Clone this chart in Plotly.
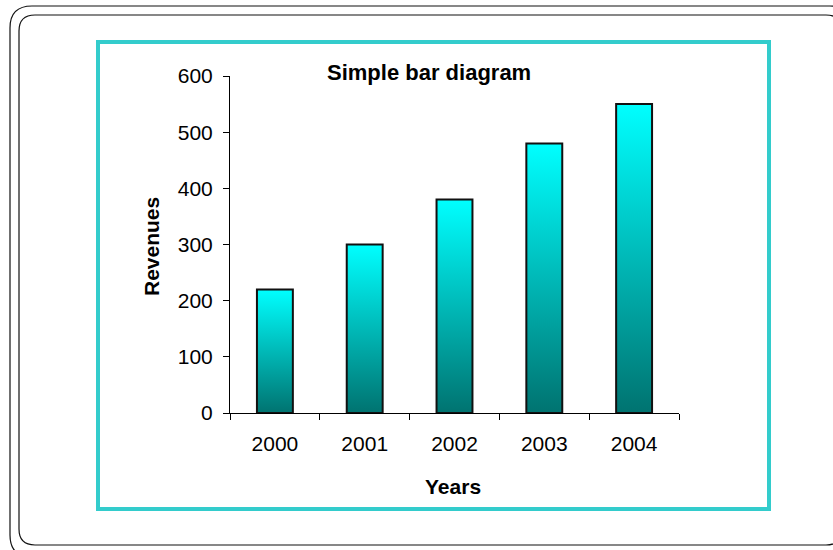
import plotly.graph_objects as go

# Revenue by year
years = ["2000", "2001", "2002", "2003", "2004"]
revenues = [220, 300, 380, 480, 550]
y_ticks = [0, 100, 200, 300, 400, 500, 600]

W, H = 833, 550
# plot area in pixels
L, R, T, B = 230, 679, 76, 413

FONT = "Arial, 'Liberation Sans', sans-serif"
BAR_W = 0.4


def px(x):
    return (x - L) / (R - L)


def py(y):
    return (B - y) / (B - T)


def rounded_path(x0, y0, x1, y1, r):
    pts = [
        ("M", [(x0 + r, y0)]),
        ("L", [(x1 - r, y0)]),
        ("Q", [(x1, y0), (x1, y0 + r)]),
        ("L", [(x1, y1 - r)]),
        ("Q", [(x1, y1), (x1 - r, y1)]),
        ("L", [(x0 + r, y1)]),
        ("Q", [(x0, y1), (x0, y1 - r)]),
        ("L", [(x0, y0 + r)]),
        ("Q", [(x0, y0), (x0 + r, y0)]),
    ]
    parts = []
    for cmd, coords in pts:
        parts.append(cmd + " ".join(f"{px(a):.5f},{py(b):.5f}" for a, b in coords))
    return " ".join(parts) + " Z"


fig = go.Figure()

# invisible category bars establish the year axis
fig.add_trace(go.Bar(
    x=years, y=revenues, width=BAR_W,
    marker=dict(color="rgba(0,0,0,0)", line=dict(width=0)),
    hoverinfo="skip", showlegend=False,
))

# gradient-filled bars on a numeric overlay axis
for i, (yr, v) in enumerate(zip(years, revenues)):
    x0, x1 = i - BAR_W / 2, i + BAR_W / 2
    fig.add_trace(go.Scatter(
        x=[x0, x1, x1, x0, x0], y=[0, 0, v, v, 0],
        xaxis="x2", mode="lines", fill="toself",
        fillgradient=dict(type="vertical",
                          colorscale=[[0, "#007370"], [1, "#00ffff"]],
                          start=0, stop=v),
        line=dict(color="#111111", width=2),
        hoverinfo="skip", showlegend=False, name=yr,
    ))

shapes = [
    # outer double frame
    dict(type="path", xref="paper", yref="paper",
         path=rounded_path(10, 6, 852, 557, 22),
         line=dict(color="#111111", width=1.2), layer="below"),
    dict(type="path", xref="paper", yref="paper",
         path=rounded_path(19, 15, 842, 545, 16),
         line=dict(color="#111111", width=1.2), layer="below"),
    # teal chart border
    dict(type="rect", xref="paper", yref="paper",
         x0=px(98), x1=px(769), y0=py(509), y1=py(42),
         line=dict(color="#33cccc", width=4), layer="below"),
]

annotations = [
    dict(text="<b>Simple bar diagram</b>", xref="paper", yref="paper",
         x=px(325), y=py(72), xanchor="left", yanchor="middle",
         showarrow=False, font=dict(family=FONT, size=22, color="black")),
    dict(text="<b>Revenues</b>", xref="paper", yref="paper",
         x=px(151), y=py(247), xanchor="center", yanchor="middle",
         textangle=-90, showarrow=False,
         font=dict(family=FONT, size=21, color="black")),
    dict(text="<b>Years</b>", xref="paper", yref="paper",
         x=px(452.5), y=py(486.5), xanchor="center", yanchor="middle",
         showarrow=False, font=dict(family=FONT, size=21, color="black")),
]

fig.update_layout(
    width=W, height=H,
    margin=dict(l=L, r=W - R, t=T, b=H - B, pad=0),
    paper_bgcolor="white", plot_bgcolor="white",
    font=dict(family=FONT, size=21, color="black"),
    showlegend=False,
    bargap=0.6,
    xaxis=dict(type="category", range=[-0.5, 4.5], tickson="boundaries",
               ticks="outside", ticklen=6, tickcolor="black", tickwidth=1,
               showline=True, linecolor="black", linewidth=1,
               showgrid=False, zeroline=False, ticklabelstandoff=12,
               tickfont=dict(family=FONT, size=21, color="black")),
    xaxis2=dict(overlaying="x", range=[-0.5, 4.5], visible=False),
    yaxis=dict(range=[0, 600], tickvals=y_ticks, ticks="outside", ticklen=6,
               tickcolor="black", tickwidth=1, showline=True,
               linecolor="black", linewidth=1, showgrid=False,
               zeroline=False, ticklabelstandoff=6,
               tickfont=dict(family=FONT, size=21, color="black")),
    shapes=shapes,
    annotations=annotations,
)

fig.write_html("out.html")
